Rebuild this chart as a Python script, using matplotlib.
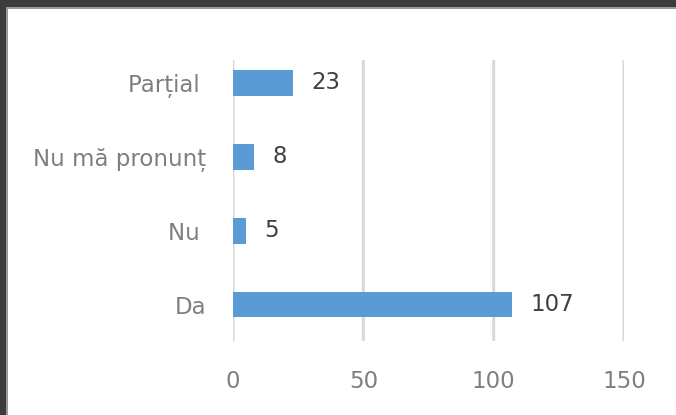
import matplotlib.pyplot as plt
from matplotlib.patches import Rectangle

W, H = 676, 415

categories = ['Da', 'Nu ', 'Nu mă pronunț', 'Parțial ']
values = [107, 5, 8, 23]
x_ticks = [0, 50, 100, 150]

BAR_COLOR = '#5b9bd5'
GRID_COLOR = '#d9d9d9'
FS = 16.5


def draw_chart():
    fig = plt.figure(figsize=(W / 100, H / 100), dpi=100)
    fig.patch.set_facecolor('white')

    # plot area in pixel coordinates
    left, right, top, bottom = 233, 624, 60, 341
    ax = fig.add_axes([left / W, 1 - bottom / H, (right - left) / W, (bottom - top) / H])

    pos = list(range(len(categories)))
    ax.barh(pos, values, height=0.35, color=BAR_COLOR, zorder=3)

    for p, v in zip(pos, values):
        ax.text(v + 7, p, str(v), va='center', ha='left', fontsize=FS, color='#404040')

    ax.set_xlim(0, 150)
    ax.set_ylim(-0.494, 3.31)
    ax.set_xticks(x_ticks)
    ax.set_yticks(pos)
    ax.set_yticklabels(categories)
    ax.tick_params(axis='x', length=0, pad=21, labelsize=FS, labelcolor='#7f7f7f')
    ax.tick_params(axis='y', length=0, pad=19, labelsize=FS, labelcolor='#7f7f7f')

    ax.grid(axis='x', color=GRID_COLOR, linewidth=2.2, zorder=0, snap=False)
    ax.grid(axis='y', visible=False)
    for s in ax.spines.values():
        s.set_visible(False)

    # dark frame on top and left
    fig.patches.append(Rectangle((0, 1 - 7 / H), 1, 7 / H, transform=fig.transFigure,
                                 facecolor='#3c3c3c', edgecolor='none'))
    fig.patches.append(Rectangle((6 / W, 1 - 9 / H), 1, 2 / H, transform=fig.transFigure,
                                 facecolor='#9a9a9a', edgecolor='none'))
    fig.patches.append(Rectangle((0, 0), 6 / W, 1, transform=fig.transFigure,
                                 facecolor='#3c3c3c', edgecolor='none'))
    fig.patches.append(Rectangle((6 / W, 0), 2 / W, 1 - 7 / H, transform=fig.transFigure,
                                 facecolor='#9a9a9a', edgecolor='none'))

    fig.savefig('out.png', dpi=100)


if __name__ == '__main__':
    draw_chart()
